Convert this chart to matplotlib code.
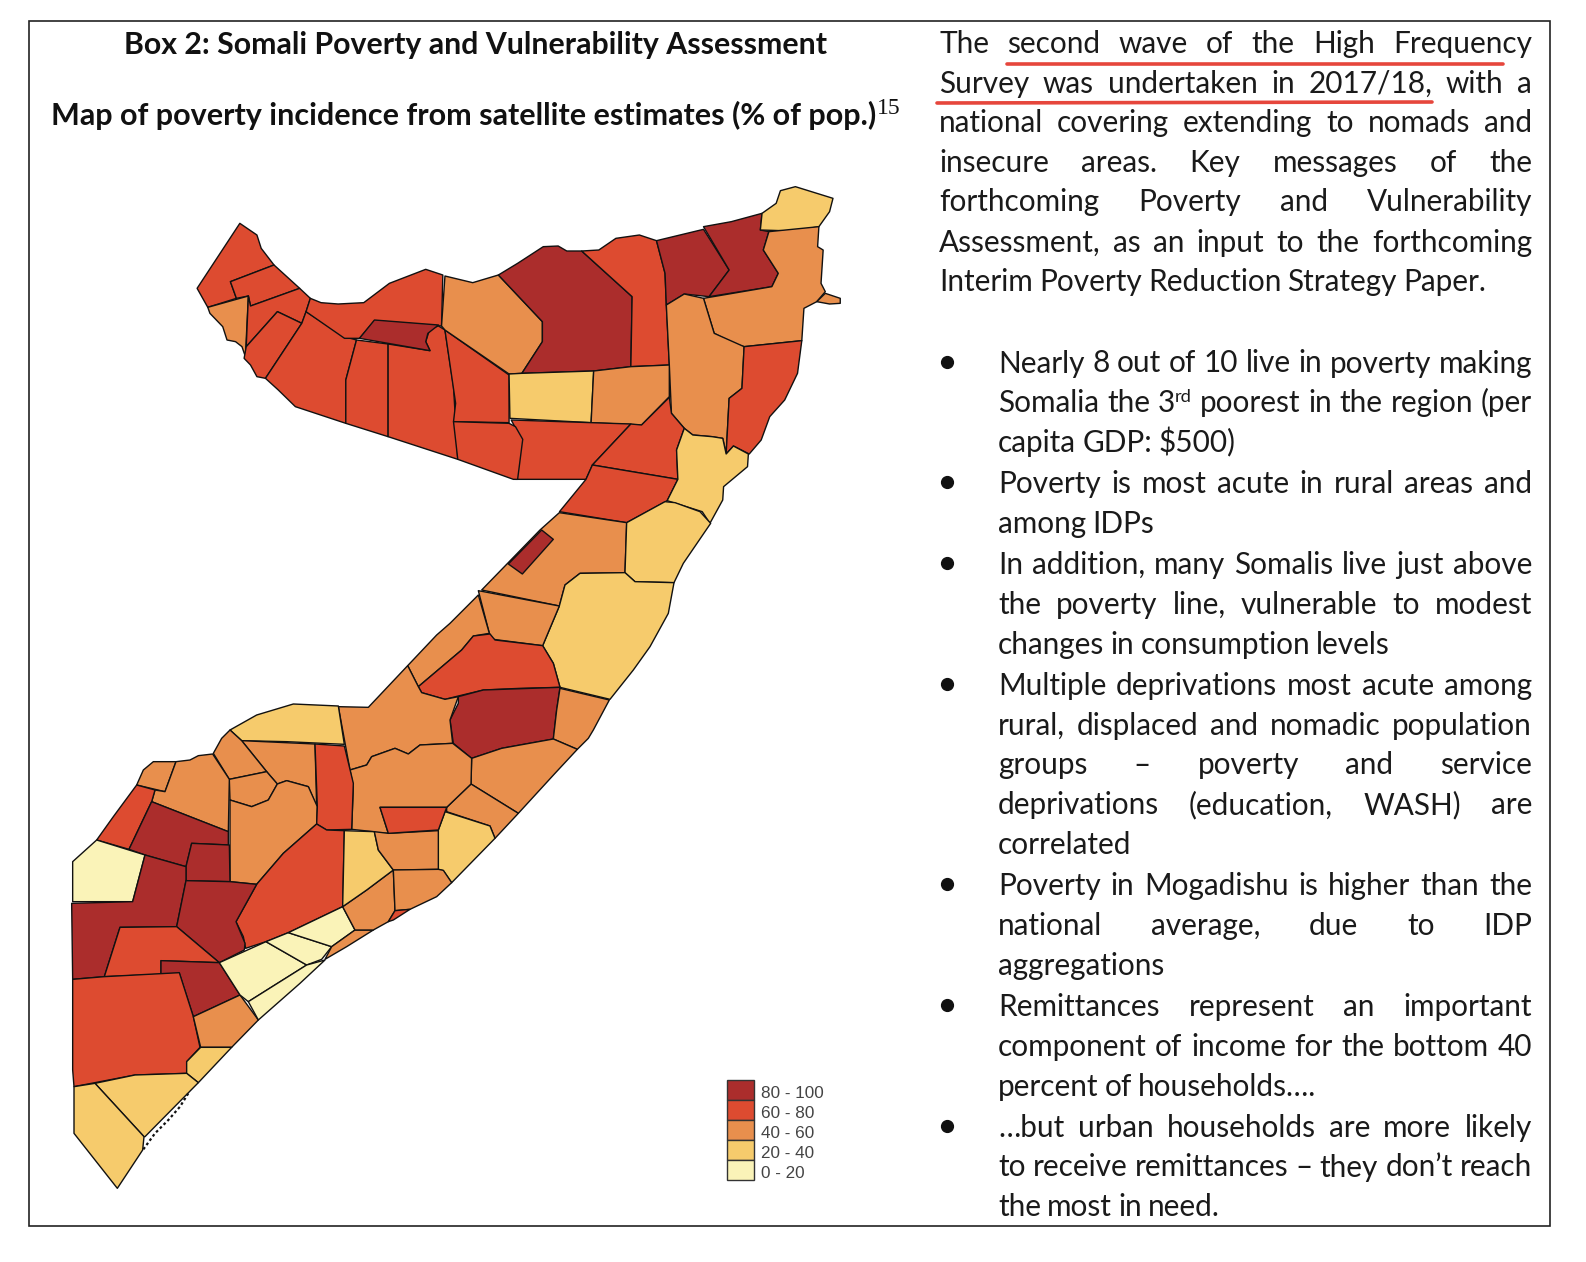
import matplotlib
matplotlib.use('Agg')
import matplotlib.pyplot as plt
from matplotlib.patches import Polygon, Rectangle

# poverty bands, lowest first
band_labels = ['0 - 20', '20 - 40', '40 - 60', '60 - 80', '80 - 100']
band_colors = ['#FAF3B8', '#F6CB6C', '#E88F4D', '#DD4B30', '#AB2D2C']
PALE, YELLOW, ORANGE, RED, DARK = 0, 1, 2, 3, 4

north_regions = [
    (RED, [(40,355),(140,160),(180,195),(190,235),(220,285),(118,335),(132,385),(65,412)]),
    (RED, [(118,335),(220,285),(280,355),(165,408),(160,378),(132,385)]),
    (ORANGE, [(65,412),(160,378),(153,560),(145,530),(130,515),(110,510),(100,470),(70,430)]),
    (RED, [(160,378),(165,408),(280,355),(305,385),(295,425),(285,460),(228,425),(155,530)]),
    (RED, [(228,425),(285,460),(200,625),(180,620),(165,585),(150,565),(155,530)]),
    (RED, [(295,425),(385,500),(413,510),(388,630),(388,760),(270,710),(230,660),(200,625),(285,460)]),
    (RED, [(305,385),(330,398),(370,402),(430,398),(490,340),(575,298),(615,315),(612,468),(455,452),(420,505),(385,505),(295,425)]),
    (RED, [(413,510),(487,522),(487,800),(388,760),(388,630)]),
    (RED, [(487,522),(585,542),(575,515),(585,475),(605,468),(620,480),(640,650),(650,868),(487,800)]),
    (DARK, [(455,450),(605,465),(580,490),(575,515),(585,542),(420,505)]),
    (RED, [(620,480),(770,615),(770,758),(640,755),(645,700)]),
    (ORANGE, [(620,318),(685,338),(745,315),(848,455),(848,515),(800,610),(770,612),(620,480),(612,468)]),
    (DARK, [(745,315),(790,280),(850,230),(885,228),(905,243),(940,243),(1058,380),(1055,590),(968,603),(800,610),(848,515),(848,455)]),
    (RED, [(940,243),(980,240),(1020,205),(1075,195),(1115,212),(1135,310),(1138,405),(1145,585),(1055,590),(1058,380)]),
    (DARK, [(1115,212),(1225,178),(1285,300),(1238,380),(1180,372),(1138,405),(1135,310)]),
    (DARK, [(1225,170),(1290,155),(1362,130),(1358,180),(1378,185),(1365,240),(1400,310),(1385,350),(1238,380),(1285,300)]),
    (YELLOW, [(1362,130),(1395,100),(1405,62),(1440,50),(1528,85),(1520,125),(1495,170),(1435,183),(1358,180)]),
    (ORANGE, [(1378,185),(1495,170),(1492,230),(1505,240),(1500,340),(1510,365),(1490,395),(1460,415),(1455,512),(1320,530),(1295,520),(1250,490),(1225,385),(1385,350),(1400,310),(1365,240)]),
    (ORANGE, [(1510,370),(1545,385),(1545,400),(1520,402),(1490,395)]),
    (ORANGE, [(1138,405),(1180,372),(1225,385),(1250,490),(1320,530),(1315,655),(1285,685),(1278,852),(1270,805),(1245,800),(1200,795),(1180,775),(1150,730),(1145,585)]),
    (RED, [(1320,530),(1455,512),(1445,610),(1415,690),(1380,740),(1360,810),(1332,852),(1295,828),(1278,852),(1285,685),(1315,655)]),
    (YELLOW, [(770,612),(800,610),(968,603),(962,758),(772,745)]),
    (ORANGE, [(968,603),(1055,590),(1145,585),(1145,680),(1080,765),(962,758)]),
    (RED, [(775,750),(962,758),(1055,762),(965,885),(950,928),(785,928),(800,810)]),
    (RED, [(1055,762),(1080,765),(1145,682),(1150,730),(1180,775),(1162,840),(1165,928),(965,885)]),
    (RED, [(640,755),(770,760),(785,770),(802,808),(790,928),(780,928),(650,868)]),
    (RED, [(965,885),(1165,928),(1140,992),(1045,1058),(888,1025),(950,928)]),
    (YELLOW, [(1180,775),(1200,795),(1245,800),(1270,805),(1278,852),(1295,828),(1330,852),(1328,890),(1272,950),(1270,990),(1240,1060),(1222,1025),(1140,992),(1165,928),(1162,840)]),
]

middle_regions = [
    (ORANGE, [(688,38),(890,68),(885,218),(750,220),(705,255),(688,318),(455,270),(630,90)]),
    (DARK, [(635,90),(670,118),(577,222),(535,192)]),
    (YELLOW, [(890,68),(1005,5),(1035,8),(1110,35),(1142,70),(1060,190),(1032,248),(915,245),(885,218)]),
    (YELLOW, [(750,220),(885,218),(915,245),(1032,248),(1015,340),(960,440),(910,510),(840,598),(690,562),(670,490),(638,437),(688,318),(705,255)]),
    (ORANGE, [(445,272),(688,318),(638,437),(490,418),(478,400)]),
    (ORANGE, [(445,285),(478,400),(430,408),(395,450),(265,560),(233,497),(320,405),(360,370)]),
    (RED, [(430,408),(480,402),(495,420),(638,437),(670,490),(690,562),(570,565),(460,570),(385,588),(345,598),(275,578),(265,560),(395,450)]),
    (DARK, [(385,590),(460,570),(690,562),(680,630),(670,717),(515,745),(425,775),(370,730),(360,660),(385,610)]),
    (ORANGE, [(690,565),(838,600),(790,690),(775,715),(742,748),(670,717),(680,630)]),
    (ORANGE, [(425,775),(515,745),(670,717),(742,748),(675,820),(565,940),(423,852)]),
    (ORANGE, [(423,852),(565,940),(495,1015),(480,978),(350,935),(350,922)]),
    (ORANGE, [(25,620),(115,622),(233,497),(265,560),(275,578),(345,598),(385,590),(360,660),(368,730),(270,735),(235,762),(195,745),(125,770),(110,795),(60,810)]),
    (ORANGE, [(60,810),(110,795),(125,770),(195,745),(235,762),(270,735),(368,730),(425,775),(423,852),(350,922),(150,922),(175,1000),(135,998),(130,995),(65,988),(70,860)]),
    (YELLOW, [(345,935),(480,978),(495,1015),(365,1148),(340,1112),(325,1108),(325,990)]),
]

south_regions = [
    (YELLOW, [(510,120),(590,75),(700,42),(835,48),(853,163),(680,155),(545,152)]),
    (ORANGE, [(545,152),(765,162),(770,350),(745,290),(680,272),(652,282),(620,245)]),
    (ORANGE, [(510,120),(545,152),(620,245),(508,268),(460,190),(485,145)]),
    (ORANGE, [(508,268),(620,245),(652,282),(625,330),(575,350),(510,330)]),
    (ORANGE, [(510,330),(575,350),(625,330),(652,282),(680,272),(745,290),(772,350),(770,402),(670,490),(590,583),(510,575)]),
    (RED, [(765,162),(853,168),(880,280),(875,418),(800,420),(770,402),(772,350)]),
    (RED, [(770,402),(800,420),(853,422),(848,650),(685,728),(618,755),(557,775),(550,740),(528,695),(590,583),(670,490)]),
    (ORANGE, [(280,215),(348,215),(315,305),(230,285),(250,240)]),
    (ORANGE, [(348,215),(390,210),(415,197),(458,192),(508,268),(505,425),(275,335),(285,300),(315,305)]),
    (RED, [(230,285),(285,300),(275,335),(207,478),(110,450),(160,380)]),
    (DARK, [(275,335),(505,425),(505,465),(395,460),(378,530),(255,495),(207,478)]),
    (DARK, [(395,460),(508,465),(510,575),(378,572),(378,530)]),
    (PALE, [(110,450),(255,495),(218,635),(38,635),(38,515)]),
    (DARK, [(255,495),(378,530),(378,572),(350,710),(180,712),(133,860),(38,868),(35,640),(218,635)]),
    (DARK, [(378,572),(510,575),(590,583),(528,695),(555,760),(553,780),(478,818),(350,710)]),
    (RED, [(180,712),(350,710),(478,818),(303,812),(303,853),(133,860)]),
    (DARK, [(303,812),(478,818),(540,915),(400,980),(358,850),(303,853)]),
    (RED, [(38,868),(133,860),(358,848),(400,980),(420,1072),(380,1115),(380,1150),(225,1155),(42,1190),(38,1140)]),
    (ORANGE, [(400,980),(540,915),(595,990),(515,1072),(422,1072)]),
    (YELLOW, [(422,1072),(515,1072),(415,1178),(380,1150),(380,1115)]),
    (YELLOW, [(105,1180),(225,1155),(380,1150),(415,1178),(255,1340),(252,1340)]),
    (YELLOW, [(42,1190),(105,1180),(252,1340),(248,1380),(172,1495),(42,1330)]),
    (PALE, [(478,818),(618,755),(740,825),(565,935),(540,915)]),
    (PALE, [(618,755),(685,728),(815,770),(785,808),(740,825)]),
    (PALE, [(685,728),(848,650),(885,720),(815,770)]),
    (PALE, [(565,935),(740,825),(795,810),(720,880),(595,990)]),
    (ORANGE, [(795,808),(815,770),(885,720),(940,720),(860,770)]),
    (ORANGE, [(848,650),(920,600),(1000,540),(1005,662),(985,695),(940,720),(885,720)]),
    (YELLOW, [(853,422),(943,425),(955,480),(1000,540),(920,600),(848,650)]),
    (ORANGE, [(943,425),(985,430),(1135,422),(1135,538),(1000,540),(955,480)]),
    (RED, [(960,352),(1160,352),(1135,420),(985,430)]),
    (ORANGE, [(1000,540),(1135,538),(1150,541),(1175,578),(1130,620),(1050,658),(1005,662)]),
    (RED, [(1005,662),(1050,658),(1000,690),(985,695)]),
]

# rough black specks on the south west shore
coast_specks = [(250,1378),(285,1330),(325,1290),(360,1250),(388,1205)]

title_top = 'Box 2: Somali Poverty and Vulnerability Assessment'
title_map = 'Map of poverty incidence from satellite estimates (% of pop.)'
title_note = '15'

# (text, justified); ^ starts a superscript
intro_lines = [
    ('The second wave of the High Frequency', True),
    ('Survey was undertaken in 2017/18, with a', True),
    ('national covering extending to nomads and', True),
    ('insecure areas. Key messages of the', True),
    ('forthcoming Poverty and Vulnerability', True),
    ('Assessment, as an input to the forthcoming', True),
    ('Interim Poverty Reduction Strategy Paper.', False),
]
bullet_items = [
    [('Nearly 8 out of 10 live in poverty making', True),
     ('Somalia the 3^rd poorest in the region (per', True),
     ('capita GDP: $500)', False)],
    [('Poverty is most acute in rural areas and', True),
     ('among IDPs', False)],
    [('In addition, many Somalis live just above', True),
     ('the poverty line, vulnerable to modest', True),
     ('changes in consumption levels', False)],
    [('Multiple deprivations most acute among', True),
     ('rural, displaced and nomadic population', True),
     ('groups \u2013 poverty and service', True),
     ('deprivations (education, WASH) are', True),
     ('correlated', False)],
    [('Poverty in Mogadishu is higher than the', True),
     ('national average, due to IDP', True),
     ('aggregations', False)],
    [('Remittances represent an important', True),
     ('component of income for the bottom 40', True),
     ('percent of households\u2026.', False)],
    [('\u2026but urban households are more likely', True),
     ('to receive remittances \u2013 they don\u2019t reach', True),
     ('the most in need.', False)],
]

plt.rcParams['font.family'] = ['Lato', 'DejaVu Sans']
BODY_SIZE = 21.4

fig = plt.figure(figsize=(15.86, 12.62), dpi=100)
ax = fig.add_axes([0, 0, 1, 1])
ax.set_xlim(0, 1586)
ax.set_ylim(1262, 0)
ax.axis('off')
renderer = fig.canvas.get_renderer()


# crops were not all the same scale, bring them back to image pixels
def to_pixels(points, x0, y0, sx, sy):
    return [(x0 + x / sx, y0 + y / sy) for x, y in points]


def draw_regions(regions, x0, y0, sx, sy):
    for band, points in regions:
        ax.add_patch(Polygon(to_pixels(points, x0, y0, sx, sy), closed=True,
                             facecolor=band_colors[band], edgecolor='#111111',
                             linewidth=1.0, joinstyle='round'))


def word_width(t):
    return t.get_window_extent(renderer).width


# one word, possibly with a superscript tail
def put_word(word, x, y):
    base, _, sup = word.partition('^')
    t = ax.text(x, y, base, fontsize=BODY_SIZE, color='#1a1a1a', va='baseline')
    if sup:
        ax.text(x + word_width(t), y - 10, sup, fontsize=BODY_SIZE * 0.62, color='#1a1a1a', va='baseline')


def measure(word):
    base, _, sup = word.partition('^')
    t = ax.text(0, 0, base, fontsize=BODY_SIZE)
    w = word_width(t)
    t.remove()
    if sup:
        s = ax.text(0, 0, sup, fontsize=BODY_SIZE * 0.62)
        w += word_width(s)
        s.remove()
    return w


def draw_line(text, justified, x_left, x_right, y):
    words = text.split()
    widths = [measure(w) for w in words]
    if justified and len(words) > 1:
        gap = (x_right - x_left - sum(widths)) / (len(words) - 1)
    else:
        gap = BODY_SIZE * 0.29
    x = x_left
    for word, w in zip(words, widths):
        put_word(word, x, y)
        x += w + gap


# frame
ax.add_patch(Rectangle((29, 21), 1521, 1205, fill=False, edgecolor='#222222', linewidth=1.2))

draw_regions(north_regions, 180, 170, 2.34, 3)
draw_regions(middle_regions, 330, 500, 3, 3)
draw_regions(south_regions, 60, 690, 3, 3)
specks = to_pixels(coast_specks, 60, 690, 3, 3)
ax.plot([p[0] for p in specks], [p[1] for p in specks], color='#111111', linewidth=1.6,
        linestyle=(0, (1.2, 1.2)))

# titles
ax.text(476, 54, title_top, fontsize=21.8, fontweight='bold', ha='center', va='baseline', color='#111111')
t = ax.text(51, 125, title_map, fontsize=22, fontweight='bold', va='baseline', color='#111111')
ax.text(51 + word_width(t) + 1, 114, title_note, fontsize=17, family='Liberation Serif', va='baseline', color='#111111')

# right column text
intro_y = [53, 93, 132, 172, 211, 252, 291]
for (text, justified), y in zip(intro_lines, intro_y):
    draw_line(text, justified, 939, 1532, y)

y = 372.5
line_step = 39.9
item_gap = 1.0
for item in bullet_items:
    ax.plot([947], [y - 11], 'o', color='#111111', markersize=8.5)
    for text, justified in item:
        draw_line(text, justified, 998, 1532, y)
        y += line_step
    y += item_gap

# red hand drawn underlines
ax.plot([1007, 1503], [64, 64], color='#E6463C', linewidth=2.6, solid_capstyle='round')
ax.plot([937, 1432], [103, 102], color='#E6463C', linewidth=2.6, solid_capstyle='round')

# legend, top band first
legend_x, legend_y, key_w, key_h = 727, 1080, 27, 20
for i, band in enumerate(reversed(range(len(band_labels)))):
    ax.add_patch(Rectangle((legend_x, legend_y + i * key_h), key_w, key_h,
                           facecolor=band_colors[band], edgecolor='#333333', linewidth=1.0))
    ax.text(legend_x + 34, legend_y + i * key_h + 13, band_labels[band], fontsize=12.3,
            family='Liberation Sans', va='center', color='#444444')

fig.savefig('out.png', dpi=100)
